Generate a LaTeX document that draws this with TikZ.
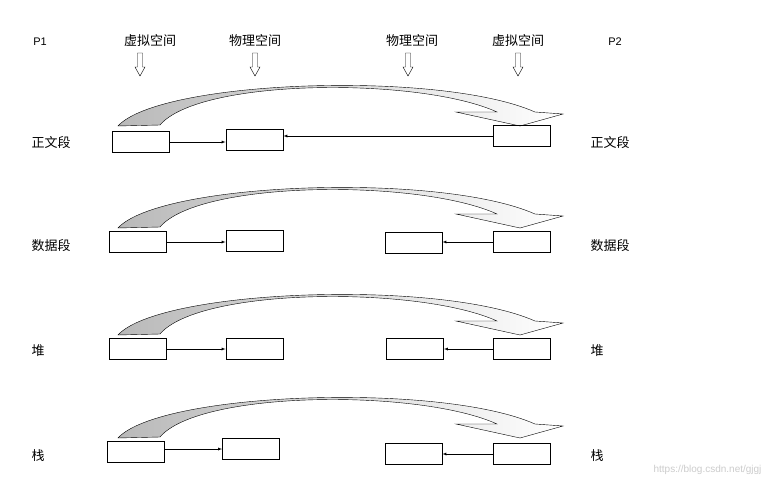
\documentclass[tikz,border=0pt]{standalone}
\usepackage{fontspec}
\setmainfont{Liberation Sans}
\newfontfamily\cjk{Noto Sans CJK SC}
\begin{document}
\begin{tikzpicture}[x=1pt,y=-1pt,
  box/.style={draw,thick,minimum width=57pt,minimum height=21pt,inner sep=0pt},
  lab/.style={font=\cjk\fontsize{13}{15}\selectfont},
  conn/.style={-latex,thin},
  hollow/.style={draw,thin,fill=white}]
\useasboundingbox (0,0) rectangle (772,490);
\fill[white] (0,0) rectangle (772,490);
% header
\node[font=\fontsize{11}{13}\selectfont] (p1) at (40,42) {P1};
\node[font=\fontsize{11}{13}\selectfont] (p2) at (615,42) {P2};
\node[lab] (h1) at (150,41) {虚拟空间};
\node[lab] (h2) at (255,41) {物理空间};
\node[lab] (h3) at (412,41) {物理空间};
\node[lab] (h4) at (518,41) {虚拟空间};
\foreach \x in {140,255,408,518}{
  \draw[hollow] (\x-2.5,53) -- (\x+2.5,53) -- (\x+2.5,67) -- (\x+5,67) -- (\x,76) -- (\x-5,67) -- (\x-2.5,67) -- cycle;
}
% ribbons
\foreach \d in {0,102,209,312}{
  \draw[thin,left color=gray!55,middle color=white,right color=white,shading angle=90]
    (118,126+\d) .. controls (160,80+\d) and (440,70+\d) .. (535,112+\d)
    -- (563,114+\d) -- (520,126+\d) -- (456,112+\d) -- (497,112+\d)
    .. controls (420,77+\d) and (200,78+\d) .. (160,125+\d) -- cycle;
}
% row 1
\node[box] (a1) at (141,142) {};
\node[box] (b1) at (254.5,139.5) {};
\node[box] (d1) at (522,136) {};
\node[lab,anchor=west] (l1) at (28,143) {正文段};
\node[lab,anchor=west] (r1) at (587,143) {正文段};
\draw[conn] (a1) -- (b1.west|-a1);
\draw[conn] (d1.west) -- (b1.east|-d1.west);
% row 2
\node[box] (a2) at (138,242) {};
\node[box] (b2) at (254.5,241) {};
\node[box] (c2) at (413.5,243) {};
\node[box] (d2) at (522,242) {};
\node[lab,anchor=west] (l2) at (28,246) {数据段};
\node[lab,anchor=west] (r2) at (587,246) {数据段};
\draw[conn] (a2) -- (b2.west|-a2);
\draw[conn] (d2) -- (c2.east|-d2);
% row 3
\node[box] (a3) at (138,349) {};
\node[box] (b3) at (254.5,349) {};
\node[box] (c3) at (415,349) {};
\node[box] (d3) at (522,349) {};
\node[lab,anchor=west] (l3) at (28,351) {堆};
\node[lab,anchor=west] (r3) at (587,351) {堆};
\draw[conn] (a3) -- (b3);
\draw[conn] (d3) -- (c3);
% row 4
\node[box] (a4) at (136,452) {};
\node[box] (b4) at (251,449) {};
\node[box] (c4) at (413.5,454) {};
\node[box] (d4) at (522,454) {};
\node[lab,anchor=west] (l4) at (28,456) {栈};
\node[lab,anchor=west] (r4) at (587,456) {栈};
\draw[conn] (a4.east|-b4) -- (b4);
\draw[conn] (d4) -- (c4);
\node[text=gray!40,font=\fontsize{10}{12}\selectfont,anchor=east] (wm) at (765,470) {https://blog.csdn.net/gjgj};
\end{tikzpicture}
\end{document}
